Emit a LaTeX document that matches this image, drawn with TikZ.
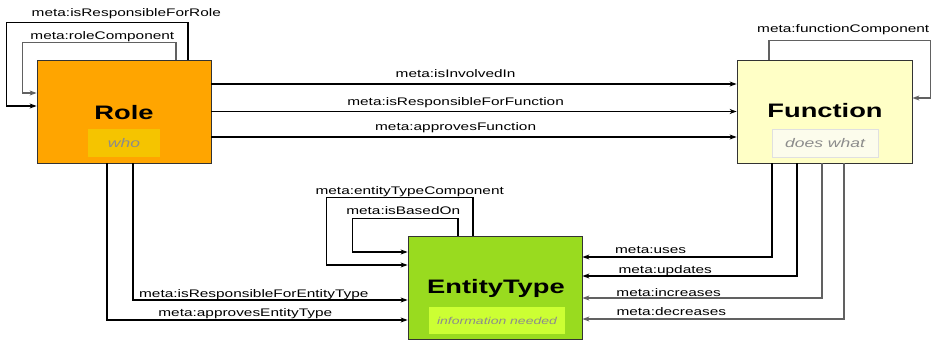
\documentclass[tikz,border=0pt]{standalone}
\usepackage{fontspec}
\setmainfont{Liberation Sans}
\newfontfamily\wide[FakeStretch=1.4]{Liberation Sans}
\usepackage{tikz}
\usetikzlibrary{arrows.meta}

\definecolor{roleorange}{HTML}{FFA500}
\definecolor{rolegold}{HTML}{F5C400}
\definecolor{functionyellow}{HTML}{FFFFC6}
\definecolor{functionpale}{HTML}{FCFCEC}
\definecolor{entitygreen}{HTML}{99DB1F}
\definecolor{entitylime}{HTML}{CCFF33}

\begin{document}
\begin{tikzpicture}
  [x=1pt, y=-1pt,
  box/.style={draw=black!80, line width=0.8pt, minimum width=174pt,
    minimum height=103pt, inner sep=0pt},
  title/.style={font=\wide\bfseries\fontsize{19.5}{22}\selectfont,
    anchor=base, inner sep=0pt},
  subbox/.style={minimum height=28pt, inner sep=0pt, text=black!45,
    text height=10pt, text depth=2pt,
    font=\wide\itshape\fontsize{12.5}{14}\selectfont},
  link/.style={line width=1.4pt, -{Stealth[length=7pt,width=5pt]}},
  softlink/.style={link, draw=black!62},
  lbl/.style={font=\wide\fontsize{11}{13}\selectfont, anchor=base,
    inner sep=0pt, yshift=4pt}]
\useasboundingbox (0,0) rectangle (934,342);

% the three classes
\node [box, fill=roleorange] (role) at (124,111.5) {};
\node [title] (roletitle) at (124,119.3) {Role};
\node [subbox, fill=rolegold, minimum width=72pt] (rolesub) at (124,143) {who};

\node [box, fill=functionyellow, minimum width=175pt] (function) at (824.5,111.5) {};
\node [title] (functiontitle) at (825,118) {Function};
\node [subbox, fill=functionpale, draw=black!12, minimum width=106pt]
  (functionsub) at (825,143) {does what};

\node [box, fill=entitygreen] (entity) at (495,287.5) {};
\node [title] (entitytitle) at (496,293) {EntityType};
\node [subbox, fill=entitylime, minimum width=136pt, minimum height=27pt,
  font=\wide\itshape\fontsize{10}{12}\selectfont]
  (entitysub) at (497,320.5) {information needed};

% role -> function
\draw [link] ([yshift=27.5pt]role.east) -- ([yshift=27.5pt]function.west)
  node [lbl, pos=0.465, yshift=2pt] {meta:isInvolvedIn};
\draw [link] (role.east) -- (function.west)
  node [lbl, pos=0.465, yshift=2pt] {meta:isResponsibleForFunction};
\draw [link] ([yshift=-25.5pt]role.east) -- ([yshift=-25.5pt]function.west)
  node [lbl, pos=0.465, yshift=2pt] {meta:approvesFunction};

% self loops
\draw [link] ([xshift=64pt]role.north) -- ++(0,-37)
  -| ([xshift=-30pt,yshift=5.5pt]role.west)
  node [lbl, pos=0.17, yshift=2pt] {meta:isResponsibleForRole}
  -- ([yshift=5.5pt]role.west);
\draw [softlink] ([xshift=52pt]role.north) -- ++(0,-17)
  -| ([xshift=-14pt,yshift=18.5pt]role.west)
  node [lbl, pos=0.24, yshift=-1pt] {meta:roleComponent}
  -- ([yshift=18.5pt]role.west);
\draw [softlink] ([xshift=-55.5pt]function.north) -- ++(0,-19)
  -| ([xshift=18pt,yshift=13.5pt]function.east)
  node [lbl, pos=0.23, yshift=4pt] {meta:functionComponent}
  -- ([yshift=13.5pt]function.east);
\draw [link] ([xshift=-22pt]entity.north) -- ++(0,-38)
  -| ([xshift=-81pt,yshift=22.5pt]entity.west)
  node [lbl, pos=0.216, yshift=-1pt] {meta:entityTypeComponent}
  -- ([yshift=22.5pt]entity.west);
\draw [link] ([xshift=-37pt]entity.north) -- ++(0,-17)
  -| ([xshift=-55pt,yshift=35.5pt]entity.west)
  node [lbl, pos=0.26] {meta:isBasedOn}
  -- ([yshift=35.5pt]entity.west);

% role -> entity type
\draw [link] ([xshift=9pt]role.south) |- ([yshift=-12.5pt]entity.west)
  node [lbl, pos=0.72, yshift=-1pt] {meta:isResponsibleForEntityType};
\draw [link] ([xshift=-17pt]role.south) |- ([yshift=-32.5pt]entity.west)
  node [lbl, pos=0.73] {meta:approvesEntityType};

% function -> entity type
\draw [link] ([xshift=-52.5pt]function.south) |- ([yshift=30.5pt]entity.east)
  node [lbl, pos=0.82] {meta:uses};
\draw [link] ([xshift=-27.5pt]function.south) |- ([yshift=11.5pt]entity.east)
  node [lbl, pos=0.807, yshift=-1pt] {meta:updates};
\draw [softlink] ([xshift=-2.5pt]function.south) |- ([yshift=-10.5pt]entity.east)
  node [lbl, pos=0.82, yshift=-2pt] {meta:increases};
\draw [softlink] ([xshift=19.5pt]function.south) |- ([yshift=-31.5pt]entity.east)
  node [lbl, pos=0.83] {meta:decreases};
\end{tikzpicture}
\end{document}
